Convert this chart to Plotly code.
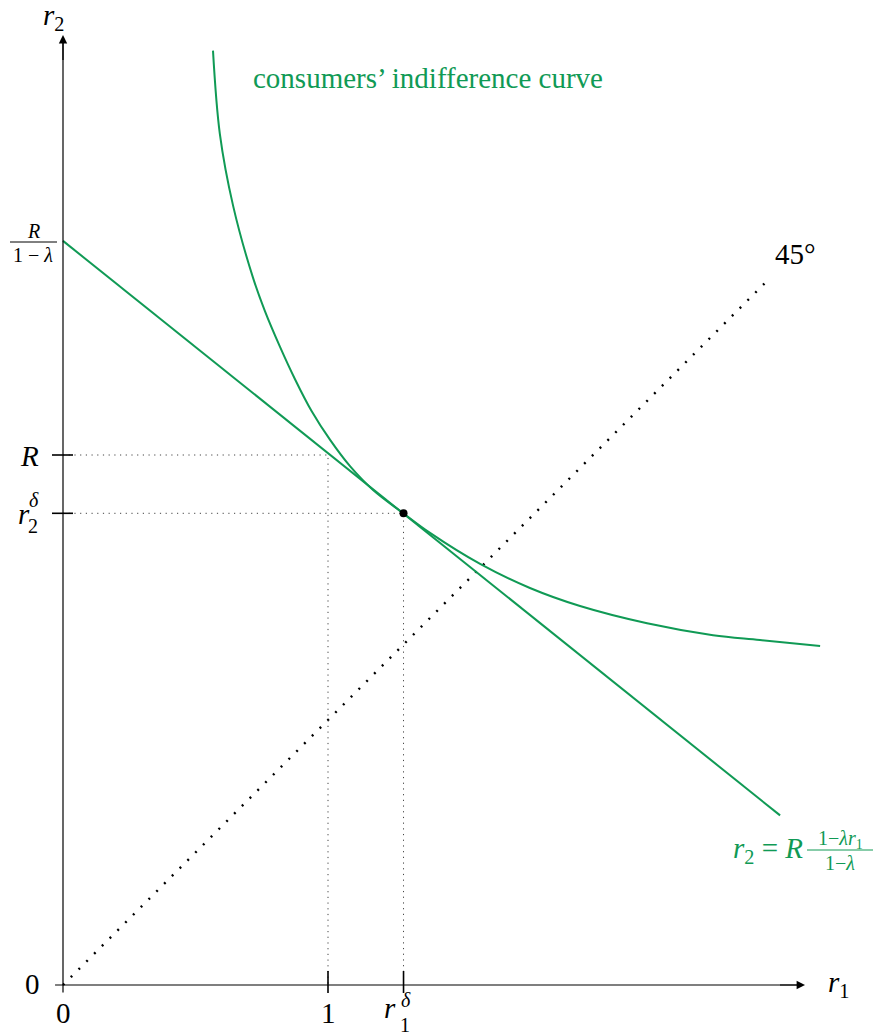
import plotly.graph_objects as go

# ---------------- data ----------------
R_val = 2.0            # r2 value of the "R" tick
r1_delta = 1.285       # r1 of the optimum
r2_delta = 1.78        # r2 of the optimum

budget_r1 = [0.0, 2.706]
budget_r2 = [2.808, 0.64]

indiff_r1 = [0.566, 0.592, 0.642, 0.716, 0.762, 0.819, 0.875, 0.938, 1.008, 1.083,
             1.170, 1.283, 1.385, 1.574, 1.762, 1.951, 2.204, 2.453, 2.630, 2.857]
indiff_r2 = [3.526, 3.211, 2.940, 2.672, 2.543, 2.408, 2.287, 2.166, 2.057, 1.958,
             1.868, 1.781, 1.706, 1.589, 1.498, 1.430, 1.365, 1.320, 1.302, 1.279]

diag_r = [0.0, 2.657]

x_axis_end = 2.80
y_axis_end = 3.585

GREEN = "#109a55"
FONT = "Liberation Serif, Times New Roman, Times, DejaVu Serif, serif"

# ---------------- figure geometry ----------------
W, H = 876, 1036
OX, OY = 63, 985        # pixel position of origin
U = 265.0               # pixels per unit


def P(px, py):
    return dict(x=px / W, y=1 - py / H, xref="paper", yref="paper")


fig = go.Figure()

# 45 degree dotted line
fig.add_trace(go.Scatter(x=diag_r, y=diag_r, mode="lines",
                         line=dict(color="black", width=2.4, dash="2px,9px"),
                         hoverinfo="skip"))

# guide dotted lines
fig.add_trace(go.Scatter(x=[0, 1, 1], y=[R_val, R_val, 0], mode="lines",
                         line=dict(color="#444", width=1, dash="1.2px,4.5px"),
                         hoverinfo="skip"))
fig.add_trace(go.Scatter(x=[0, r1_delta, r1_delta], y=[r2_delta, r2_delta, 0], mode="lines",
                         line=dict(color="#444", width=1, dash="1.2px,4.5px"),
                         hoverinfo="skip"))

# budget line
fig.add_trace(go.Scatter(x=budget_r1, y=budget_r2, mode="lines",
                         line=dict(color=GREEN, width=2), hoverinfo="skip"))

# indifference curve
fig.add_trace(go.Scatter(x=indiff_r1, y=indiff_r2, mode="lines",
                         line=dict(color=GREEN, width=2, shape="spline", smoothing=1.0),
                         hoverinfo="skip"))

# optimum point
fig.add_trace(go.Scatter(x=[r1_delta], y=[r2_delta], mode="markers",
                         marker=dict(color="black", size=8), hoverinfo="skip"))

shapes = []
# axes lines (extend slightly past origin)
shapes.append(dict(type="line", xref="x", yref="y", x0=-0.03, y0=0, x1=x_axis_end - 0.02, y1=0,
                   line=dict(color="black", width=1.2)))
shapes.append(dict(type="line", xref="x", yref="y", x0=0, y0=-0.028, x1=0, y1=y_axis_end - 0.02,
                   line=dict(color="black", width=1.2)))
# y ticks
for yv in [R_val, r2_delta]:
    shapes.append(dict(type="line", xref="x", yref="y", xsizemode="pixel", xanchor=0,
                       x0=-11, x1=10, y0=yv, y1=yv, line=dict(color="black", width=1.6)))
# x ticks
for xv in [1.0, r1_delta]:
    shapes.append(dict(type="line", xref="x", yref="y", ysizemode="pixel", yanchor=0,
                       y0=-8, y1=14, x0=xv, x1=xv, line=dict(color="black", width=1.6)))
# fraction bars
shapes.append(dict(type="line", xref="paper", yref="paper",
                   x0=10 / W, x1=57 / W, y0=1 - 242 / H, y1=1 - 242 / H,
                   line=dict(color="black", width=1)))
shapes.append(dict(type="line", xref="paper", yref="paper",
                   x0=807 / W, x1=873 / W, y0=1 - 850 / H, y1=1 - 850 / H,
                   line=dict(color=GREEN, width=1)))

ann = []
# axis arrows
ann.append(dict(x=x_axis_end, y=0, ax=x_axis_end - 0.1, ay=0, xref="x", yref="y",
                axref="x", ayref="y", text="", showarrow=True, arrowhead=2,
                arrowsize=1.4, arrowwidth=1.2, arrowcolor="black", standoff=0))
ann.append(dict(x=0, y=y_axis_end, ax=0, ay=y_axis_end - 0.1, xref="x", yref="y",
                axref="x", ayref="y", text="", showarrow=True, arrowhead=2,
                arrowsize=1.4, arrowwidth=1.2, arrowcolor="black", standoff=0))


def label(text, px, py, size=29, color="black", xanchor="center"):
    d = P(px, py)
    d.update(text=text, showarrow=False, xanchor=xanchor, yanchor="middle",
             font=dict(family=FONT, size=size, color=color))
    ann.append(d)


label("<i>r</i><sub>2</sub>", 53, 17)
label("<i>r</i><sub>1</sub>", 838, 984)
label("<i>R</i>", 33, 231, size=20)
label("1 − <i>λ</i>", 33, 255, size=20)
label("<i>R</i>", 29, 456)
label("<i>r</i>", 24, 514)
label("<i>δ</i>", 34, 500, size=20)
label("2", 33, 526, size=20)
label("0", 32, 984)
label("0", 63, 1013)
label("1", 328, 1013)
label("<i>r</i>", 390, 1008)
label("<i>δ</i>", 406, 1000, size=20)
label("1", 405, 1025, size=20)
label("45°", 795, 254)
label("consumers’ indifference curve", 428, 78, color=GREEN)
label("<i>r</i><sub>2</sub> = <i>R</i>", 805, 850, color=GREEN, xanchor="right")
label("1−<i>λr</i><sub>1</sub>", 840, 839, size=20, color=GREEN)
label("1−<i>λ</i>", 840, 863, size=20, color=GREEN)

fig.update_layout(
    width=W, height=H,
    margin=dict(l=0, r=0, t=0, b=0),
    paper_bgcolor="white", plot_bgcolor="white",
    showlegend=False,
    xaxis=dict(range=[-OX / U, (W - OX) / U], visible=False, fixedrange=True),
    yaxis=dict(range=[-(H - OY) / U, OY / U], visible=False, fixedrange=True),
    shapes=shapes, annotations=ann,
)

fig.write_html("out.html", config={"displayModeBar": False},
               post_script="document.body.style.margin='0';document.body.style.overflow='hidden';")
